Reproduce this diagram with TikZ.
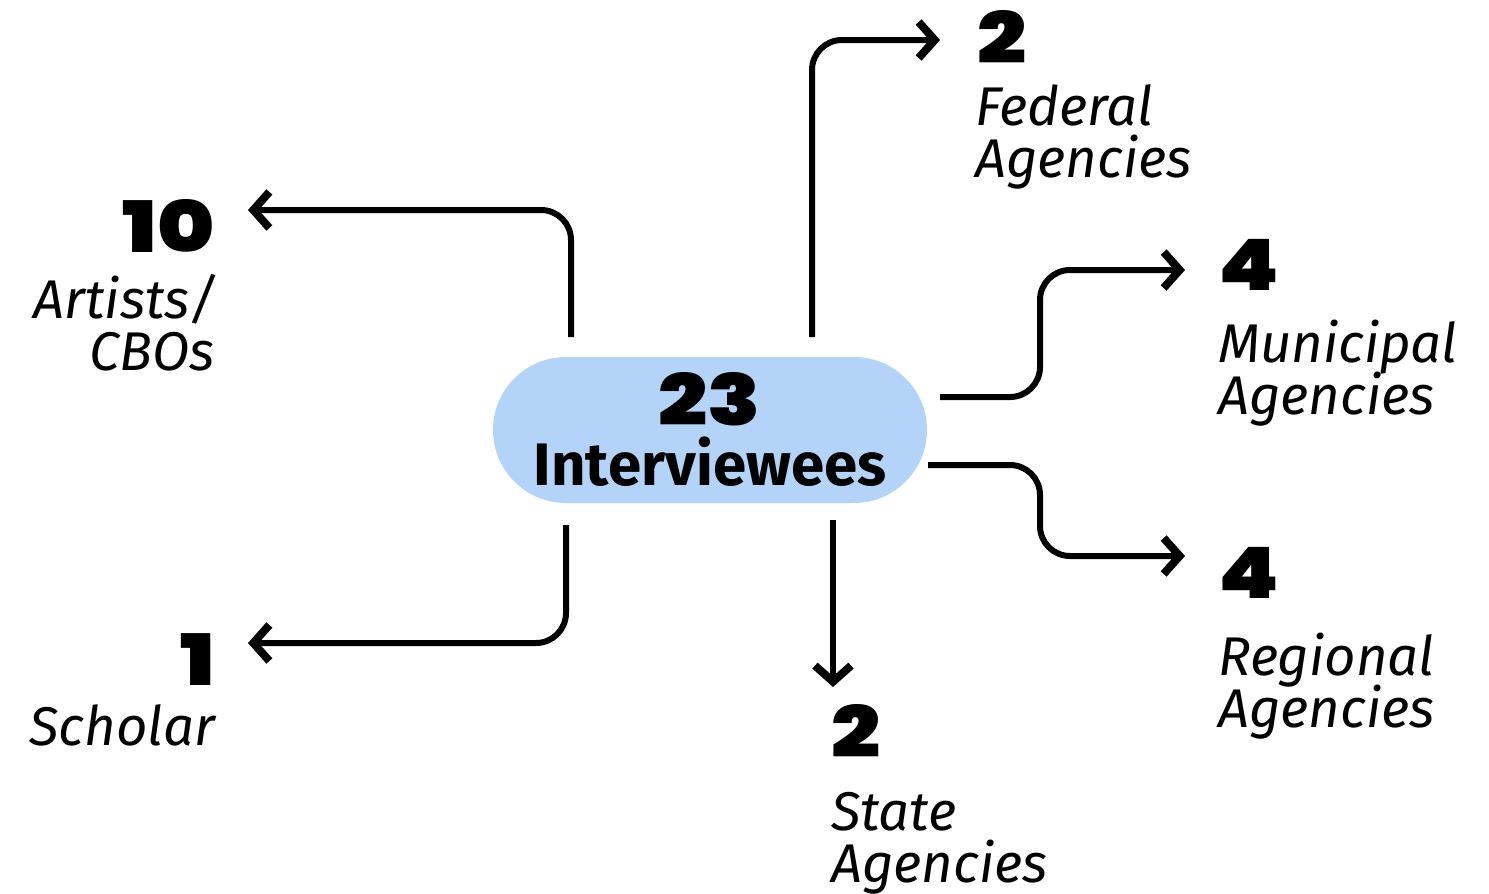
\documentclass[tikz,border=0pt]{standalone}
\usepackage{fontspec}
\setmainfont{Fira Sans}
\newfontfamily\heavy{Poppins Black}
\usetikzlibrary{arrows.meta}
\definecolor{pill}{HTML}{B3D3F8}
\newcommand\widenum[1]{\scalebox{1.22}[1]{#1}}
\tikzset{
  conn/.style={line width=6pt, rounded corners=30pt, -{Straight Barb[length=16pt,width=36pt,line width=8pt]}},
  num/.style={inner sep=0pt, text depth=0pt, font=\heavy\fontsize{71}{71}\selectfont},
  lbl/.style={inner sep=0pt, font=\itshape\fontsize{54.5}{52}\selectfont},
}
\begin{document}
\begin{tikzpicture}[x=1pt,y=-1pt]
\useasboundingbox (0,0) rectangle (1489,894);
% centre
\node[fill=pill, rounded corners=73pt, minimum width=434pt, minimum height=146pt, inner sep=0pt] (c) at (710,430) {};
\node[num, anchor=base] (n23) at (710,425) {\widenum{23}};
\node[inner sep=0pt, text height=42pt, anchor=base, font=\bfseries\fontsize{60}{60}\selectfont] (iv) at (710,485) {Interviewees};
% labels
\node[num, anchor=base east] (n10) at (215,252) {\widenum{10}};
\node[lbl, anchor=base east] (l10a) at (218,318) {Artists/};
\node[lbl, anchor=base east] (l10b) at (215,370) {CBOs};
\node[num, anchor=base east] (n1) at (215,685) {\widenum{1}};
\node[lbl, anchor=base east] (l1) at (215,745) {Scholar};
\node[num, anchor=base west] (nf) at (977,63) {\widenum{2}};
\node[lbl, anchor=base west] (lfa) at (975,125) {Federal};
\node[lbl, anchor=base west] (lfb) at (975,177) {Agencies};
\node[num, anchor=base west] (nm) at (1218,290) {\widenum{4}};
\node[lbl, anchor=base west] (lma) at (1218,362) {Municipal};
\node[lbl, anchor=base west] (lmb) at (1218,414) {Agencies};
\node[num, anchor=base west] (nr) at (1218,598) {\widenum{4}};
\node[lbl, anchor=base west] (lra) at (1218,675) {Regional};
\node[lbl, anchor=base west] (lrb) at (1218,727) {Agencies};
\node[num, anchor=base west] (ns) at (831,757) {\widenum{2}};
\node[lbl, anchor=base west] (lsa) at (831,830) {State};
\node[lbl, anchor=base west] (lsb) at (831,882) {Agencies};
% connector ends
\coordinate (a0) at (571,337); \coordinate (a1) at (248,210);
\coordinate (f0) at (812,337); \coordinate (f1) at (940,40);
\coordinate (m0) at (940,397); \coordinate (m1) at (1185,270);
\coordinate (r0) at (928,465); \coordinate (r1) at (1185,556);
\coordinate (s0) at (833,520); \coordinate (s1) at (833,687);
\coordinate (k0) at (566,525); \coordinate (k1) at (248,643);
\draw[conn] (a0) |- (a1);
\draw[conn] (f0) |- (f1);
\draw[conn] (m0) -- (1040,397) -- (1040,270) -- (m1);
\draw[conn] (r0) -- (1040,465) -- (1040,556) -- (r1);
\draw[conn] (s0) -- (s1);
\draw[conn] (k0) |- (k1);
\end{tikzpicture}
\end{document}
